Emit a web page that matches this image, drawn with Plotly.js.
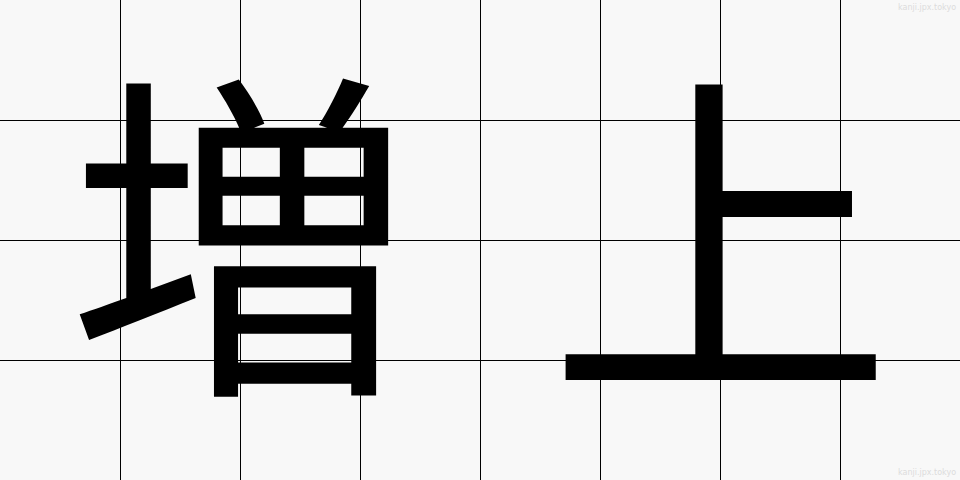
<!DOCTYPE html>
<html>
<head>
<meta charset="utf-8">
<script src="https://cdn.plot.ly/plotly-3.0.1.min.js"></script>
<style>
html,body{margin:0;padding:0;background:#f8f8f8;}
#chart{width:960px;height:480px;}
</style>
</head>
<body>
<div id="chart"></div>
<script>
// Characters and the grid column/row (in grid units) they sit on
var chars = ["増", "上"];
var charCol = [2, 6];
var charRow = [2, 2];
var watermark = "kanji.jpx.tokyo";

var charAnnotations = chars.map(function (c, i) {
  return {
    text: c, x: charCol[i], y: charRow[i], xref: "x", yref: "y",
    xanchor: "center", yanchor: "middle", showarrow: false, yshift: 22,
    font: {family: "Noto Sans CJK JP", size: 345, color: "#000000"}
  };
});

var trace = {
  type: "scatter", mode: "markers", x: charCol, y: charRow,
  marker: {opacity: 0}, hoverinfo: "none", showlegend: false
};

var layout = {
  width: 960,
  height: 480,
  margin: {l: 0, r: 0, t: 0, b: 0, pad: 0},
  paper_bgcolor: "#f8f8f8",
  plot_bgcolor: "#f8f8f8",
  xaxis: {range: [0, 8], dtick: 1, tick0: 0, showgrid: true, gridcolor: "#000000", gridwidth: 1,
          zeroline: false, showticklabels: false, ticks: "", fixedrange: true, showline: false},
  yaxis: {range: [0, 4], dtick: 1, tick0: 0, showgrid: true, gridcolor: "#000000", gridwidth: 1,
          zeroline: false, showticklabels: false, ticks: "", fixedrange: true, showline: false},
  annotations: charAnnotations.concat([
    {text: watermark, xref: "paper", yref: "paper", x: 0.998, y: 0.998, xanchor: "right", yanchor: "top",
     showarrow: false, font: {family: "DejaVu Sans", size: 8, color: "#dcdcdc"}},
    {text: watermark, xref: "paper", yref: "paper", x: 0.998, y: 0.002, xanchor: "right", yanchor: "bottom",
     showarrow: false, font: {family: "DejaVu Sans", size: 8, color: "#dcdcdc"}}
  ])
};

Plotly.newPlot("chart", [trace], layout, {staticPlot: true, displayModeBar: false});
</script>
</body>
</html>
